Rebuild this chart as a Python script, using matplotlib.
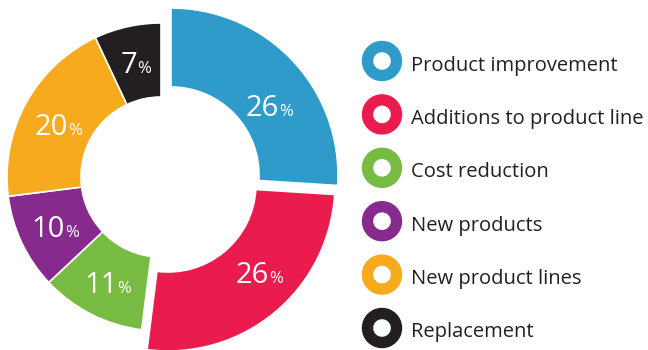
import matplotlib.pyplot as plt
import numpy as np
from matplotlib.offsetbox import AnnotationBbox, HPacker, TextArea
from matplotlib.patches import Wedge

FONT = ["Open Sans", "DejaVu Sans"]
TEXT_COLOR = "#231f20"

categories = [
    "Product improvement",
    "Additions to product line",
    "Cost reduction",
    "New products",
    "New product lines",
    "Replacement",
]
shares = [26, 26, 11, 10, 20, 7]
colors = ["#2e9bcb", "#ea1c4e", "#78bb43", "#862a8e", "#f8aa1f", "#231f20"]

# canvas is laid out in pixel units, y pointing up
W, H = 648, 350

fig = plt.figure(figsize=(W / 100, H / 100), dpi=100)
ax = fig.add_axes([0, 0, 1, 1])

wedges, _ = ax.pie(
    shares,
    colors=colors,
    startangle=90,
    counterclock=False,
    radius=154,
    center=(161, 173),
    wedgeprops=dict(width=74, edgecolor="white", linewidth=1.2),
)

# the two top slices are pulled out and drawn a little larger
for w, c in zip(wedges[:2], [(171, 175), (168, 166)]):
    w.set_center(c)
    w.set_radius(167)
    w.set_width(79)

label_nudge = [(5, -21), (10, 7), (0, -4), (0, -3), (0, -7), (0, -3)]

for w, v, (nx, ny) in zip(wedges, shares, label_nudge):
    mid = np.deg2rad((w.theta1 + w.theta2) / 2)
    rm = w.r - w.width / 2
    x = w.center[0] + rm * np.cos(mid) + nx
    y = w.center[1] + rm * np.sin(mid) + ny
    box = HPacker(
        children=[
            TextArea(f"{v}", textprops=dict(color="white", fontsize=21, family=FONT)),
            TextArea("%", textprops=dict(color="white", fontsize=12, family=FONT)),
        ],
        align="baseline",
        pad=0,
        sep=0,
    )
    ax.add_artist(AnnotationBbox(box, (x, y), frameon=False, box_alignment=(0.5, 0.5)))

# legend: ring markers with labels
for i, (name, col) in enumerate(zip(categories, colors)):
    yc = H - (61 + i * 53.4)
    ax.add_patch(Wedge((382, yc), 19.5, 0, 360, width=10, color=col))
    ax.text(411, yc - 9.5, name, fontsize=14.5, family=FONT, color=TEXT_COLOR,
            ha="left", va="baseline")

ax.set_xlim(0, W)
ax.set_ylim(0, H)
ax.set_aspect("equal")
ax.axis("off")

fig.savefig("out.png", dpi=100)
